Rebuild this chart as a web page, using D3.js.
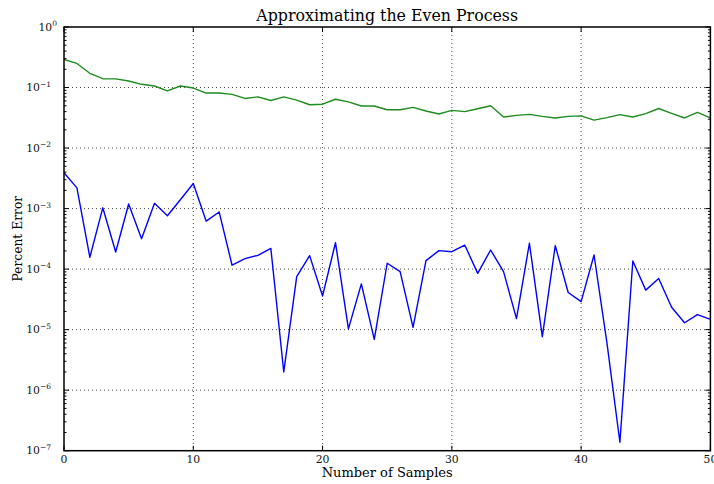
<!DOCTYPE html>
<html><head><meta charset="utf-8">
<script src="https://cdn.jsdelivr.net/npm/d3@7"></script>
<style>body{margin:0;background:#fff}</style>
</head><body>
<svg id="c" width="714" height="484"></svg>
<script>
// ---- data ----
const samples = [0,1,2,3,4,5,6,7,8,9,10,11,12,13,14,15,16,17,18,19,20,21,22,23,24,25,26,27,28,29,30,31,32,33,34,35,36,37,38,39,40,41,42,43,44,45,46,47,48,49,50];
const greenError = [0.29,0.25,0.172,0.14,0.139,0.128,0.113,0.106,0.088,0.106,0.098,0.081,0.081,0.077,0.066,0.070,0.061,0.070,0.062,0.052,0.053,0.064,0.058,0.0495,0.0495,0.043,0.043,0.047,0.041,0.0365,0.042,0.040,0.0447,0.050,0.0326,0.0347,0.036,0.0334,0.0314,0.0334,0.034,0.029,0.0318,0.0356,0.0326,0.037,0.045,0.0375,0.0314,0.039,0.0314];
const blueError = [3.9e-3,2.2e-3,1.57e-4,1.03e-3,1.92e-4,1.19e-3,3.18e-4,1.22e-3,7.6e-4,1.4e-3,2.6e-3,6.2e-4,8.8e-4,1.16e-4,1.49e-4,1.69e-4,2.2e-4,2.0e-6,7.5e-5,1.67e-4,3.6e-5,2.73e-4,1.03e-5,5.7e-5,6.9e-6,1.25e-4,9.1e-5,1.09e-5,1.38e-4,2.02e-4,1.94e-4,2.5e-4,8.5e-5,2.07e-4,9.1e-5,1.52e-5,2.67e-4,7.65e-6,2.44e-4,4.1e-5,2.9e-5,1.71e-4,6.0e-6,1.38e-7,1.36e-4,4.5e-5,7.0e-5,2.34e-5,1.3e-5,1.77e-5,1.48e-5];
const xTickValues = [0,10,20,30,40,50];
const yTickExponents = [0,-1,-2,-3,-4,-5,-6,-7];
const titleText = "Approximating the Even Process";
const xLabelText = "Number of Samples";
const yLabelText = "Percent Error";

// ---- layout ----
const L = 64, R = 710.4, T = 27, B = 450.7;
const svg = d3.select("#c");
const x = d3.scaleLinear().domain([0,50]).range([L,R]);
const y = d3.scaleLog().domain([1e-7,1]).range([B,T]);
const serif = "'DejaVu Serif', serif";

// grid
const g = svg.append("g");
g.selectAll(".vg").data(xTickValues.filter(v=>v>0&&v<50)).join("line")
  .attr("x1",d=>x(d)).attr("x2",d=>x(d)).attr("y1",T).attr("y2",B)
  .attr("stroke","#333").attr("stroke-width",0.9).attr("stroke-dasharray","1,3");
g.selectAll(".hg").data(yTickExponents.filter(e=>e<0&&e>-7)).join("line")
  .attr("x1",L).attr("x2",R).attr("y1",d=>y(Math.pow(10,d))).attr("y2",d=>y(Math.pow(10,d)))
  .attr("stroke","#333").attr("stroke-width",0.9).attr("stroke-dasharray","1,3");

// lines
const line = d3.line().x((d,i)=>x(samples[i])).y(d=>y(d));
svg.append("path").datum(greenError).attr("d",line).attr("fill","none")
  .attr("stroke","#1e8c1e").attr("stroke-width",1.4).attr("stroke-linejoin","round");
svg.append("path").datum(blueError).attr("d",line).attr("fill","none")
  .attr("stroke","#0000ff").attr("stroke-width",1.4).attr("stroke-linejoin","round");

// ticks (inward, all four sides)
const tk = svg.append("g").attr("stroke","#000").attr("stroke-width",1);
const minor = [];
for (let e=-7;e<0;e++) for (let m=2;m<=9;m++) minor.push(m*Math.pow(10,e));
minor.forEach(v=>{
  tk.append("line").attr("x1",L).attr("x2",L+2.5).attr("y1",y(v)).attr("y2",y(v));
  tk.append("line").attr("x1",R).attr("x2",R-2.5).attr("y1",y(v)).attr("y2",y(v));
});
yTickExponents.forEach(e=>{
  const v=Math.pow(10,e);
  tk.append("line").attr("x1",L).attr("x2",L+5).attr("y1",y(v)).attr("y2",y(v));
  tk.append("line").attr("x1",R).attr("x2",R-5).attr("y1",y(v)).attr("y2",y(v));
});
xTickValues.forEach(v=>{
  tk.append("line").attr("x1",x(v)).attr("x2",x(v)).attr("y1",B).attr("y2",B-5);
  tk.append("line").attr("x1",x(v)).attr("x2",x(v)).attr("y1",T).attr("y2",T+5);
});

// frame
svg.append("rect").attr("x",L).attr("y",T).attr("width",R-L).attr("height",B-T)
  .attr("fill","none").attr("stroke","#000").attr("stroke-width",1.5);

// y tick labels
yTickExponents.forEach(e=>{
  const t = svg.append("text").attr("x", e===0?57:51).attr("y",y(Math.pow(10,e))+3.5)
    .attr("text-anchor","end").attr("font-family",serif).attr("font-size",10.8).attr("fill","#111");
  t.append("tspan").text("10");
  t.append("tspan").attr("dy",-4.5).attr("font-size",7.5).text(e===0?"0":"\u2212"+(-e));
});
// x tick labels
xTickValues.forEach(v=>{
  svg.append("text").attr("x",x(v)).attr("y",B+12).attr("text-anchor","middle")
    .attr("font-family",serif).attr("font-size",10.8).attr("fill","#111").text(v);
});

// titles
svg.append("text").attr("x",(L+R)/2).attr("y",21).attr("text-anchor","middle")
  .attr("font-family",serif).attr("font-size",15.8).attr("fill","#000").text(titleText);
svg.append("text").attr("x",(L+R)/2).attr("y",477).attr("text-anchor","middle")
  .attr("font-family",serif).attr("font-size",13).attr("fill","#000").text(xLabelText);
svg.append("text").attr("transform","translate(21.5,238.7) rotate(-90)").attr("text-anchor","middle")
  .attr("font-family",serif).attr("font-size",12.3).attr("fill","#000").text(yLabelText);
</script>
</body></html>
